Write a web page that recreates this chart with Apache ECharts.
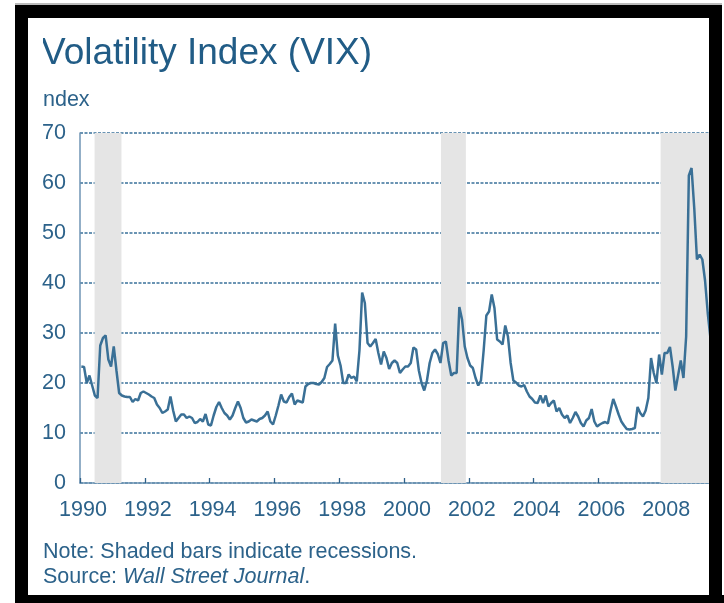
<!DOCTYPE html>
<html>
<head>
<meta charset="utf-8">
<script src="https://cdn.jsdelivr.net/npm/echarts@6/dist/echarts.min.js"></script>
<style>
  html, body { margin: 0; padding: 0; background: #fff; }
  #chart { width: 724px; height: 603px; }
</style>
</head>
<body>
<div id="chart"></div>
<script>
// monthly averages of the VIX, Jan 1990 .. Jun 2009
var startYear = 1990;
var vixMonthly = [
  23.3, 23.2, 20.0, 21.5, 19.5, 17.5, 17.0, 27.5, 29.0, 29.5, 24.7, 23.3, // 1990
  27.3, 22.5, 18.0, 17.5, 17.3, 17.2, 17.2, 16.2, 16.8, 16.5, 18.0, 18.3, // 1991
  18.0, 17.7, 17.3, 17.0, 15.7, 15.0, 14.0, 14.3, 14.7, 17.3, 14.5, 12.3, // 1992
  13.0, 13.7, 13.7, 13.0, 13.3, 13.0, 12.0, 12.2, 12.8, 12.3, 13.8, 11.7, // 1993
  11.5, 13.5, 15.2, 16.2, 15.0, 14.0, 13.5, 12.7, 13.5, 15.0, 16.3, 15.0, // 1994
  13.0, 12.1, 12.3, 12.7, 12.5, 12.3, 12.8, 13.0, 13.5, 14.3, 12.3, 11.7, // 1995
  13.5, 15.5, 17.7, 16.3, 16.1, 17.2, 17.9, 15.7, 16.5, 16.3, 16.1, 19.3, // 1996
  19.8, 20.0, 20.0, 19.8, 19.7, 20.2, 21.0, 23.2, 23.8, 24.5, 31.9, 25.5, // 1997
  23.5, 20.0, 20.0, 21.7, 21.0, 21.3, 20.3, 26.5, 38.1, 36.0, 28.0, 27.3, // 1998
  28.0, 28.8, 26.0, 23.7, 26.3, 25.0, 22.8, 24.0, 24.5, 24.0, 22.0, 22.7, // 1999
  23.3, 23.3, 24.0, 27.1, 26.7, 22.5, 20.0, 18.5, 20.5, 24.0, 26.0, 26.7, // 2000
  25.8, 24.0, 28.0, 28.3, 24.5, 21.5, 22.0, 22.0, 35.2, 32.7, 27.3, 25.0, // 2001
  23.5, 23.0, 21.0, 19.5, 20.5, 26.5, 33.5, 34.3, 37.7, 35.0, 28.7, 28.3, // 2002
  27.7, 31.5, 29.3, 24.0, 20.5, 20.1, 19.5, 19.3, 19.6, 18.3, 17.3, 16.8, // 2003
  16.1, 16.0, 17.5, 16.0, 17.5, 15.3, 16.0, 16.5, 14.3, 15.0, 13.7, 13.0, // 2004
  13.5, 12.0, 13.0, 14.2, 13.3, 12.0, 11.3, 12.5, 13.0, 14.8, 12.3, 11.3, // 2005
  11.7, 12.0, 12.2, 11.9, 14.5, 16.8, 15.3, 13.7, 12.3, 11.5, 10.8, 10.7, // 2006
  10.8, 11.0, 15.2, 14.0, 13.3, 14.5, 17.0, 25.0, 22.0, 20.0, 25.7, 21.7, // 2007
  26.0, 26.0, 27.2, 23.3, 18.5, 21.5, 24.5, 21.0, 29.3, 61.5, 63.0, 55.0, // 2008
  44.7, 45.7, 44.7, 40.5, 34.0, 29.0                                      // 2009
];
var recessions = [[1990.45, 1991.28], [2001.14, 2001.91], [2007.92, 2009.6]];
var yTicks = [0, 10, 20, 30, 40, 50, 60, 70];

var points = vixMonthly.map(function (v, i) {
  return [startYear + (i + 0.5) / 12, v];
});

var blue = '#2c628a';
var font = '"Liberation Sans", Arial, sans-serif';

var myChart = echarts.init(document.getElementById('chart'));

var option = {
  animation: false,
  grid: { left: 80, right: 12.2, top: 133, bottom: 120 },
  xAxis: {
    type: 'value',
    min: 1990,
    max: 2009.5,
    interval: 2,
    axisLine: { show: true, lineStyle: { color: '#6f95b4', width: 1.5 } },
    axisTick: { show: true, inside: true, length: 5, lineStyle: { color: '#2f6189', width: 1.3 } },
    splitLine: { show: false },
    axisLabel: {
      showMaxLabel: false,
      margin: 16,
      padding: [0, 0, 0, 6],
      color: blue,
      fontFamily: font,
      fontSize: 21.5,
      formatter: function (v) { return v % 2 === 0 ? String(v) : ''; }
    }
  },
  yAxis: {
    type: 'value',
    min: yTicks[0],
    max: yTicks[yTicks.length - 1],
    interval: 10,
    axisLine: { show: true, lineStyle: { color: '#6f95b4', width: 1.5 } },
    axisTick: { show: false },
    splitLine: { show: true, lineStyle: { color: '#3a719a', width: 1.5, type: [3, 1.5] } },
    axisLabel: { margin: 14, color: blue, fontFamily: font, fontSize: 21.5 }
  },
  series: [
    {
      type: 'line',
      data: points,
      showSymbol: false,
      lineStyle: { color: '#3a7096', width: 2.5 },
      markArea: {
        silent: true,
        itemStyle: { color: '#e5e5e5' },
        data: recessions.map(function (r) { return [{ xAxis: r[0] }, { xAxis: r[1] }]; })
      }
    }
  ],
  graphic: [
    {
      type: 'text', left: 41, top: 35,
      style: { text: 'Volatility Index (VIX)', fill: '#215c86', font: '37px ' + font }
    },
    {
      type: 'text', left: 37, top: 89,
      style: { text: 'Index', fill: blue, font: '21.5px ' + font }
    },
    // original picture is cropped on the left
    { type: 'rect', shape: { x: 28, y: 30, width: 15, height: 88 }, style: { fill: '#fff' }, z: 50 },
    {
      type: 'text', left: 43, top: 541,
      style: { text: 'Note: Shaded bars indicate recessions.', fill: blue, font: '21.5px ' + font }
    },
    {
      type: 'text', left: 43, top: 566,
      style: {
        text: '{n|Source: }{i|Wall Street Journal}{n|.}',
        rich: {
          n: { fill: blue, fontFamily: font, fontSize: 21.5 },
          i: { fill: blue, fontFamily: font, fontSize: 21.5, fontStyle: 'italic' }
        }
      }
    },
    // black frame
    { type: 'rect', shape: { x: 15, y: 3, width: 707, height: 2 }, style: { fill: '#bbb' }, z: 100 },
    { type: 'rect', shape: { x: 15, y: 5, width: 707, height: 13 }, style: { fill: '#000' }, z: 100 },
    { type: 'rect', shape: { x: 15, y: 5, width: 13, height: 598 }, style: { fill: '#000' }, z: 100 },
    { type: 'rect', shape: { x: 709, y: 5, width: 13, height: 598 }, style: { fill: '#000' }, z: 100 },
    { type: 'rect', shape: { x: 15, y: 595, width: 709, height: 8 }, style: { fill: '#000' }, z: 100 }
  ]
};

myChart.setOption(option);
</script>
</body>
</html>
